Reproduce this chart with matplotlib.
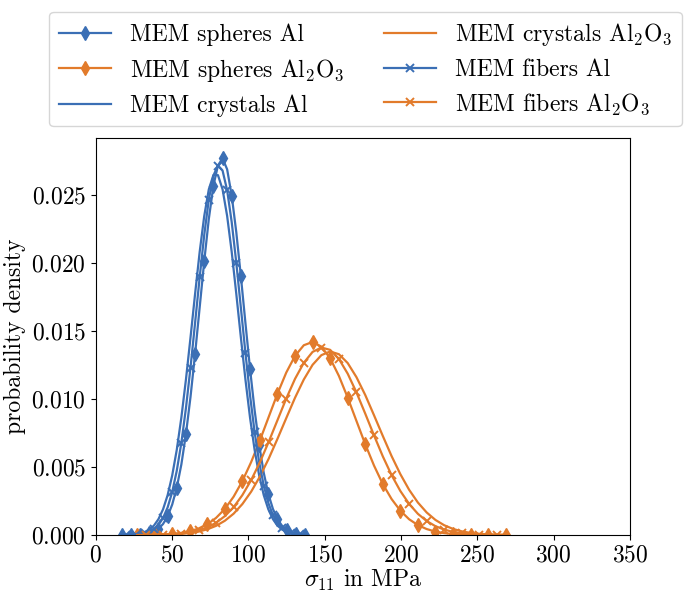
import numpy as np
import matplotlib
matplotlib.use("Agg")
import matplotlib.pyplot as plt

plt.rcParams['font.family'] = 'serif'
plt.rcParams['font.serif'] = ['cmr10']
plt.rcParams['mathtext.fontset'] = 'cm'
plt.rcParams['axes.formatter.use_mathtext'] = True
plt.rcParams['font.size'] = 17

# stress grids (MPa)
x_al = np.arange(17, 138, 3)
x_al2o3 = 27 + 5.75 * np.arange(43)

# probability densities
spheres_al = [0.0, 0.000006, 0.000006, 0.000014, 0.00003, 0.00007, 0.00013, 0.00025,
              0.00046, 0.00081, 0.00138, 0.00224, 0.00349, 0.00519, 0.00742, 0.01016,
              0.01333, 0.01674, 0.02015, 0.02325, 0.02569, 0.02719, 0.02770, 0.02690,
              0.02496, 0.02227, 0.01903, 0.01559, 0.01223, 0.00919, 0.00662, 0.00457,
              0.00302, 0.00192, 0.00116, 0.00068, 0.00038, 0.00020, 0.00010, 0.00005,
              0.00002]
fibers_al = [0.0, 0.000006, 0.000013, 0.000028, 0.000059, 0.00012, 0.00023, 0.00042,
             0.00074, 0.00125, 0.00203, 0.00316, 0.00473, 0.00678, 0.00933, 0.01232,
             0.01561, 0.01895, 0.02208, 0.02467, 0.02644, 0.02718, 0.02681, 0.02536,
             0.02301, 0.02003, 0.01672, 0.01339, 0.01028, 0.00758, 0.00536, 0.00363,
             0.00236, 0.00147, 0.00088, 0.00051, 0.00028, 0.00015, 0.00007, 0.00004,
             0.00002]
crystals_al = [0.000006, 0.000013, 0.000028, 0.000058, 0.000115, 0.00022, 0.00040, 0.00069,
               0.00117, 0.00189, 0.00293, 0.00438, 0.00627, 0.00864, 0.01143, 0.01453,
               0.01774, 0.02082, 0.02347, 0.02543, 0.02647, 0.02647, 0.02543, 0.02347,
               0.02082, 0.01774, 0.01453, 0.01143, 0.00864, 0.00627, 0.00438, 0.00293,
               0.00189, 0.00117, 0.00069, 0.00040, 0.00022, 0.000115, 0.000058, 0.000028,
               0.000013]

spheres_al2o3 = [0.000004, 0.00001, 0.000021, 0.000042, 0.000082, 0.000154, 0.000276, 0.000477,
                 0.00079, 0.00126, 0.00192, 0.00282, 0.00397, 0.00537, 0.00697, 0.00869,
                 0.0104, 0.01195, 0.01318, 0.01396, 0.0142, 0.01386, 0.0130, 0.0117,
                 0.01011, 0.00839, 0.00668, 0.00511, 0.00375, 0.00265, 0.00179, 0.00116,
                 0.00073, 0.00044, 0.00025, 0.00014, 0.000073, 0.000037, 0.000018, 0.000009,
                 0.000004, 0.000002, 0.000001]
fibers_al2o3 = [0.000004, 0.000008, 0.000016, 0.000031, 0.00006, 0.000111, 0.000198, 0.00034,
                0.000565, 0.0009, 0.00139, 0.00205, 0.00294, 0.00404, 0.00536, 0.00686,
                0.00845, 0.01004, 0.01149, 0.01267, 0.01347, 0.01379, 0.01362, 0.01295,
                0.01187, 0.01049, 0.00893, 0.00733, 0.00579, 0.00441, 0.00324, 0.00229,
                0.00156, 0.00103, 0.00065, 0.0004, 0.00023, 0.000132, 0.000072, 0.000038,
                0.000019, 0.000009, 0.000005]
crystals_al2o3 = [0.000003, 0.000006, 0.000012, 0.000023, 0.000044, 0.000082, 0.000146, 0.00025,
                  0.00042, 0.000675, 0.00105, 0.00157, 0.00228, 0.00319, 0.00431, 0.00562,
                  0.00708, 0.0086, 0.0101, 0.01144, 0.01252, 0.01323, 0.0135, 0.0133,
                  0.01265, 0.01161, 0.0103, 0.00881, 0.00729, 0.00581, 0.00448, 0.00333,
                  0.00239, 0.00166, 0.00111, 0.00072, 0.00045, 0.00027, 0.000157, 0.000088,
                  0.000048, 0.000025, 0.000013]

blue = '#3b6fb5'
orange = '#e27b2b'

fig = plt.figure(figsize=(6.85, 5.95), dpi=100)
ax = fig.add_axes([0.140, 0.1008, 0.7797, 0.6672])

ax.plot(x_al, spheres_al, color=blue, lw=1.6, marker='d', ms=7, markevery=2,
        label='MEM spheres Al')
ax.plot(x_al2o3, spheres_al2o3, color=orange, lw=1.6, marker='d', ms=7, markevery=2,
        label=r'MEM spheres Al$_2$O$_3$')
ax.plot(x_al, crystals_al, color=blue, lw=1.6, label='MEM crystals Al')
ax.plot(x_al2o3, crystals_al2o3, color=orange, lw=1.6, label=r'MEM crystals Al$_2$O$_3$')
ax.plot(x_al, fibers_al, color=blue, lw=1.6, marker='x', ms=6, mew=1.4,
        markevery=(1, 2), label='MEM fibers Al')
ax.plot(x_al2o3, fibers_al2o3, color=orange, lw=1.6, marker='x', ms=6, mew=1.4,
        markevery=(1, 2), label=r'MEM fibers Al$_2$O$_3$')

ax.set_xlim(0, 350)
ax.set_ylim(0, 0.0292)
ax.set_xticks(np.arange(0, 351, 50))
ax.set_yticks(np.arange(0, 0.0251, 0.005))
ax.set_xlabel(r'$\sigma_{11}$ in MPa', labelpad=1)
ax.set_ylabel('probability density')

ax.legend(ncol=2, loc='lower center', bbox_to_anchor=(0.505, 1.0),
          handlelength=2.2, columnspacing=1.7, labelspacing=0.45, fontsize=17)

fig.savefig('out.png', dpi=100)
